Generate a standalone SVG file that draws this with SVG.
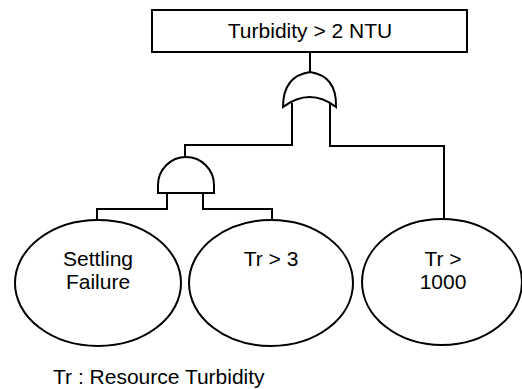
<svg xmlns="http://www.w3.org/2000/svg" width="522" height="389" viewBox="0 0 522 389">
<style>
.s{fill:#fff;stroke:#000;stroke-width:2}
.c{fill:none;stroke:#000;stroke-width:2}
.t{font-family:"Liberation Sans",Arial,sans-serif;font-size:21px;fill:#000;text-anchor:middle}
</style>
<rect width="522" height="389" fill="#fff"/>
<g id="connectors">
<path class="c" d="M310,52 V72"/>
<path class="c" d="M292,103 V145 H185 V157"/>
<path class="c" d="M330,103 V146 H444 V219"/>
<path class="c" d="M167,193 V209 H97 V220"/>
<path class="c" d="M203,193 V209 H272 V220"/>
</g>
<g id="top">
<rect class="s" x="152" y="10" width="315" height="42"/>
<text class="t" x="310" y="38">Turbidity &gt; 2 NTU</text>
</g>
<g id="or-gate">
<path class="s" d="M283,107 Q283,76 310,72 Q337,76 336,107 Q310,87 283,107 Z"/>
</g>
<g id="and-gate">
<path class="s" d="M158,193 V185 A28,28 0 0 1 214,185 V193 Z"/>
</g>
<g id="settling">
<ellipse class="s" cx="98" cy="283" rx="83" ry="63"/>
<text class="t" x="98" y="266">Settling</text>
<text class="t" x="98" y="289">Failure</text>
</g>
<g id="tr3">
<ellipse class="s" cx="271" cy="283" rx="82" ry="63"/>
<text class="t" x="271" y="266">Tr &gt; 3</text>
</g>
<g id="tr1000">
<ellipse class="s" cx="442" cy="282" rx="80" ry="63"/>
<text class="t" x="443" y="266">Tr &gt;</text>
<text class="t" x="443" y="289">1000</text>
</g>
<text x="53" y="384" style="font-family:'Liberation Sans',Arial,sans-serif;font-size:21px;fill:#000">Tr : Resource Turbidity</text>
</svg>
